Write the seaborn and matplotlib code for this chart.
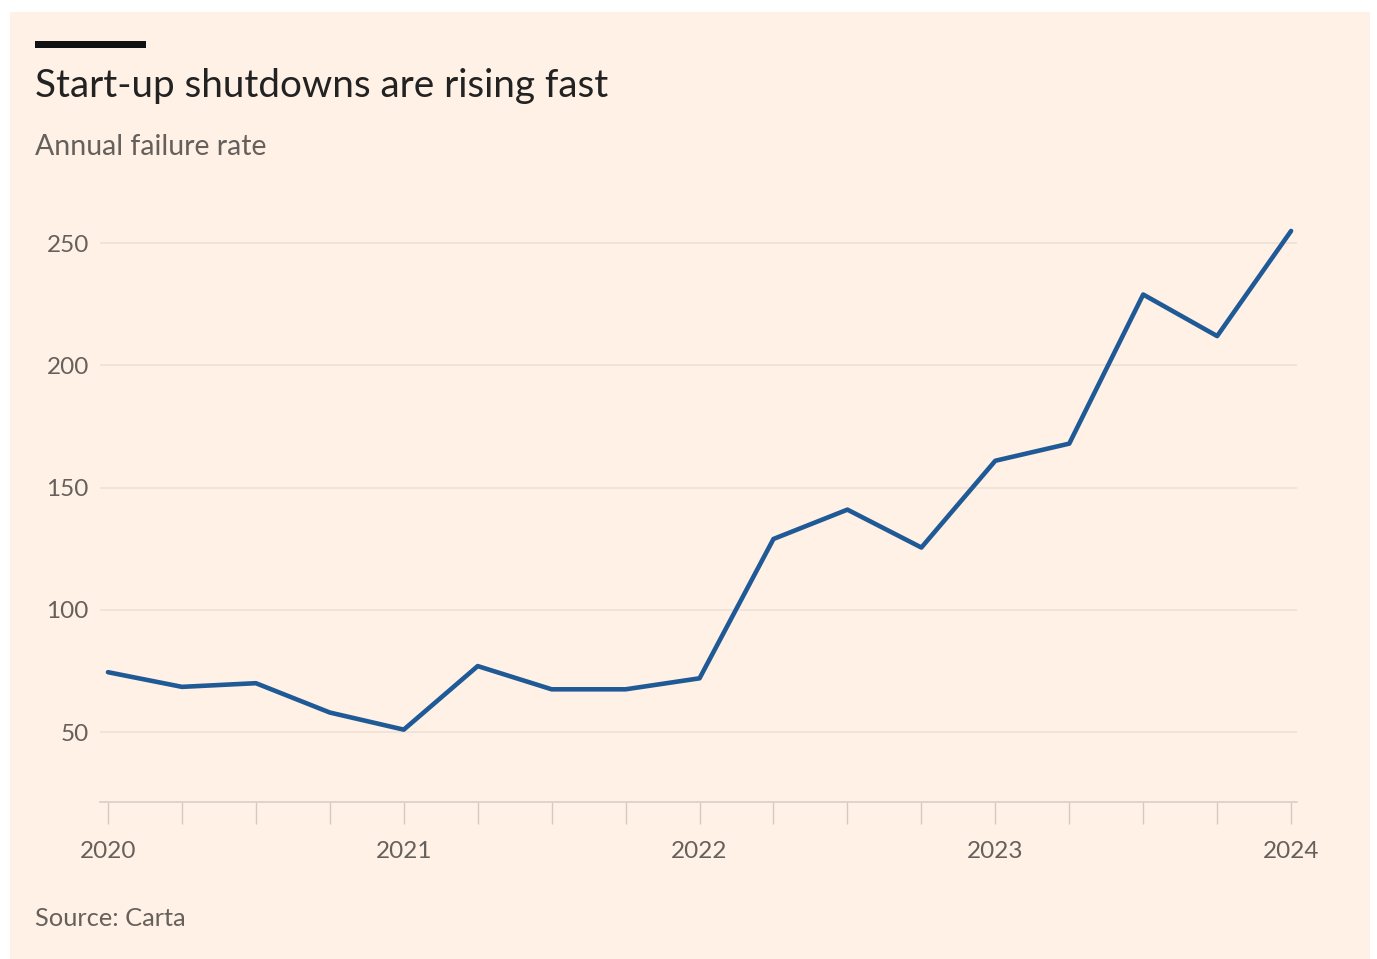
import matplotlib
matplotlib.use("Agg")
import matplotlib.pyplot as plt
import seaborn as sns
import pandas as pd
from matplotlib.patches import Rectangle

# Data (quarterly, 2020 Q1 .. 2024 Q1)
quarter_index = list(range(17))
failure_rate = [74.5, 68.5, 70, 58, 51, 77, 67.5, 67.5, 72, 129, 141, 125.5, 161, 168, 229, 212, 255]
year_ticks = [0, 4, 8, 12, 16]
year_labels = ["2020", "2021", "2022", "2023", "2024"]
y_ticks = [50, 100, 150, 200, 250]

BG = "#FFF1E5"
LINE = "#1F5A96"
GRID = "#EDE2D8"
TXT = "#66605C"

sns.set_theme(style="white")
plt.rcParams["font.family"] = ["Lato", "DejaVu Sans"]

df = pd.DataFrame({"q": quarter_index, "rate": failure_rate})

fig = plt.figure(figsize=(13.77, 9.59), dpi=100)
fig.patch.set_facecolor("white")
fig.patches.append(Rectangle((10/1377, 0), 1360/1377, 1 - 12/959, transform=fig.transFigure,
                             facecolor=BG, edgecolor="none", zorder=-5))

ax = fig.add_axes([100/1377, 1 - 802/959, 1197/1377, (802 - 218)/959])
ax.set_zorder(2)
ax.patch.set_alpha(0)

sns.lineplot(data=df, x="q", y="rate", ax=ax, color=LINE, linewidth=3.3, zorder=3)

ax.set_xlim(-0.108, 16.08)
ax.set_ylim(21.4, 260.3)
ax.set_yticks(y_ticks)
ax.set_yticklabels([str(v) for v in y_ticks])
ax.set_xticks(year_ticks)
ax.set_xticklabels(year_labels)
ax.set_xticks(quarter_index, minor=True)
ax.set_xlabel("")
ax.set_ylabel("")

for y in y_ticks:
    ax.axhline(y, color=GRID, linewidth=1.2, zorder=1)

for s in ["top", "right", "left"]:
    ax.spines[s].set_visible(False)
ax.spines["bottom"].set_color("#D9CFC7")
ax.spines["bottom"].set_linewidth(1.2)

ax.tick_params(axis="y", length=0, pad=8, labelsize=17.5, labelcolor=TXT)
ax.tick_params(axis="x", which="major", length=16, width=1, color="#D3C9C1",
               pad=12, labelsize=17.5, labelcolor=TXT, direction="out", bottom=True)
ax.tick_params(axis="x", which="minor", length=16, width=1, color="#D3C9C1",
               direction="out", bottom=True)

# Header
fig.patches.append(Rectangle((35/1377, 1 - 48/959), 111/1377, 7/959, transform=fig.transFigure,
                             facecolor="#111111", edgecolor="none", zorder=2))
fig.text(35/1377, 1 - 86/959, "Start-up shutdowns are rising fast", fontsize=27.8,
         color="#222222", va="center", ha="left")
fig.text(35/1377, 1 - 147/959, "Annual failure rate", fontsize=20.5,
         color=TXT, va="center", ha="left")
fig.text(35/1377, 1 - 918/959, "Source: Carta", fontsize=18.3,
         color=TXT, va="center", ha="left")

fig.savefig("out.png", dpi=100, facecolor=fig.get_facecolor())
